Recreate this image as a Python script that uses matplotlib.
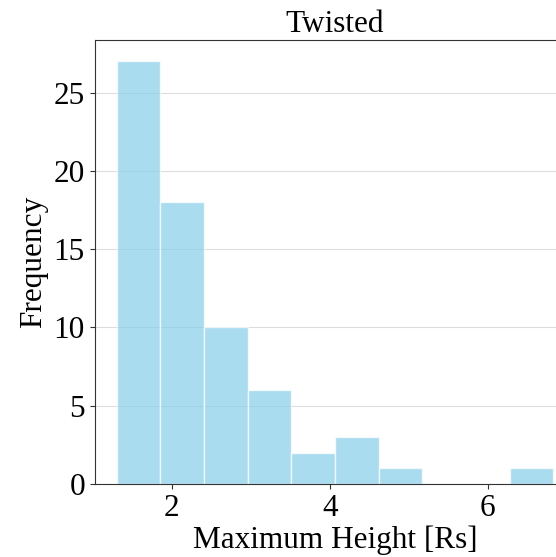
import matplotlib
matplotlib.use("Agg")
import matplotlib.pyplot as plt
import numpy as np

# Histogram counts per bin
counts = [27, 18, 10, 6, 2, 3, 1, 0, 0, 1]
height_min = 1.30
height_max = 6.83
n_bins = len(counts)

edges = np.linspace(height_min, height_max, n_bins + 1)
centers = (edges[:-1] + edges[1:]) / 2

plt.rcParams['font.family'] = ['Liberation Serif', 'DejaVu Serif']

fig = plt.figure(figsize=(5.56, 5.57), dpi=100)
ax = fig.add_axes([0.1703, 0.131, 0.864, 0.797])

ax.hist(centers, bins=edges, weights=counts, color='skyblue', alpha=0.7,
        edgecolor='white', linewidth=1, zorder=2)

fs = 22.5
ax.set_title('Twisted', fontsize=fs)
ax.set_xlabel('Maximum Height [Rs]', fontsize=fs, labelpad=2)
ax.set_ylabel('Frequency', fontsize=fs)
ax.tick_params(labelsize=fs, color='#333333')
ax.set_yticks([0, 5, 10, 15, 20, 25])
ax.set_xticks([2, 4, 6])
ax.grid(axis='y', color='#dddddd', linewidth=0.8, zorder=0)
ax.set_axisbelow(True)
for s in ax.spines.values():
    s.set_color('#333333')

fig.savefig('out.png', dpi=100)
